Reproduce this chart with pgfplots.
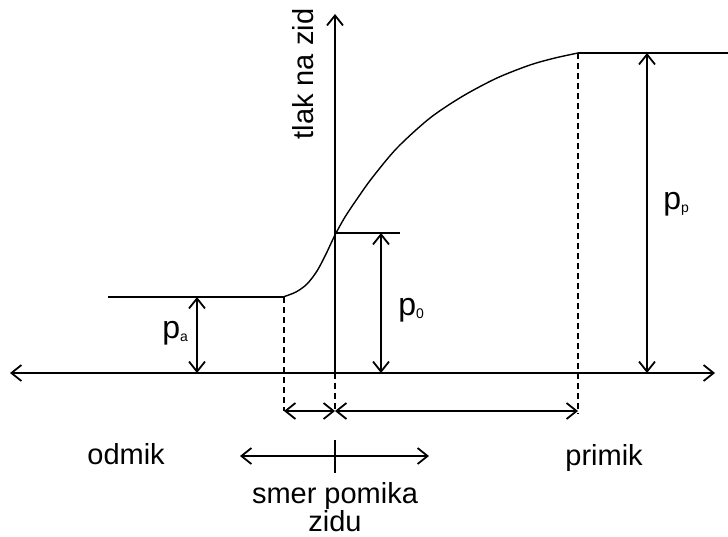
\documentclass[border=0pt]{standalone}
\usepackage{fontspec}
\setmainfont{Liberation Sans}
\usepackage{pgfplots}
\pgfplotsset{compat=1.18}
\usetikzlibrary{arrows.meta}
\newcommand{\sub}[1]{\raisebox{-1.5pt}{\fontsize{7}{7}\selectfont #1}}
\begin{document}
\begin{tikzpicture}[>={Straight Barb[length=5pt,width=8pt,line width=0.9pt]}]
\begin{axis}[scale only axis, width=364pt, height=268pt,
  xmin=0, xmax=728, ymin=0, ymax=536, y dir=reverse,
  hide axis, clip=false,
  cycle list={{black, no markers, solid, line width=0.7pt}},
  every axis plot/.append style={black, no markers, line width=0.7pt}]
% axes
\addplot[<->] coordinates {(10,373) (715,373)};
\addplot[->] coordinates {(335,373) (335,14)};
\addplot[dash pattern=on 3pt off 2pt] coordinates {(335,373) (335,411)};
% curve
\addplot[] coordinates {(108,297) (283,297)};
\addplot[smooth, tension=0.5] coordinates {(283,297) (296,292) (307,284) (317,271) (326,254) (335,235) (345,217) (357,199) (372,178) (397,148) (430,118) (463,96) (497,78) (530,65) (555,58) (578,53)};
\addplot[] coordinates {(578,53) (728,53)};
\addplot[] coordinates {(335,233) (400,233)};
% pressure arrows
\addplot[<->] coordinates {(197,297) (197,373)};
\addplot[<->] coordinates {(381,233) (381,373)};
\addplot[<->] coordinates {(647,53) (647,373)};
% dashed verticals
\addplot[dash pattern=on 3pt off 2pt] coordinates {(284,297) (284,411)};
\addplot[dash pattern=on 3pt off 2pt] coordinates {(578,53) (578,414)};
% displacement arrows
\addplot[<->] coordinates {(284,411) (335,411)};
\addplot[<->] coordinates {(335,411) (578,411)};
% direction arrow
\addplot[<->] coordinates {(240,456) (429,456)};
\addplot[] coordinates {(335,440) (335,473)};
% labels
\node[anchor=base, rotate=90, inner sep=0pt, font=\fontsize{14.5}{17}\selectfont] at (axis cs:313,74) {tlak na zid};
\node[anchor=base west, inner sep=0pt, font=\fontsize{16}{18}\selectfont] at (axis cs:162,338) {p\sub{a}};
\node[anchor=base west, inner sep=0pt, font=\fontsize{16}{18}\selectfont] at (axis cs:398,315) {p\sub{0}};
\node[anchor=base west, inner sep=0pt, font=\fontsize{16}{18}\selectfont] at (axis cs:663,209) {p\sub{p}};
\node[anchor=base west, inner sep=0pt, font=\fontsize{14.5}{17}\selectfont] at (axis cs:87,464) {odmik};
\node[anchor=base west, inner sep=0pt, font=\fontsize{14.5}{17}\selectfont] at (axis cs:565,465) {primik};
\node[anchor=base, inner sep=0pt, font=\fontsize{14.5}{17}\selectfont] at (axis cs:335,503) {smer pomika};
\node[anchor=base, inner sep=0pt, font=\fontsize{14.5}{17}\selectfont] at (axis cs:335,531) {zidu};
\end{axis}
\pgfresetboundingbox
\path[use as bounding box] (current axis.south west) rectangle (current axis.north east);
\end{tikzpicture}
\end{document}
